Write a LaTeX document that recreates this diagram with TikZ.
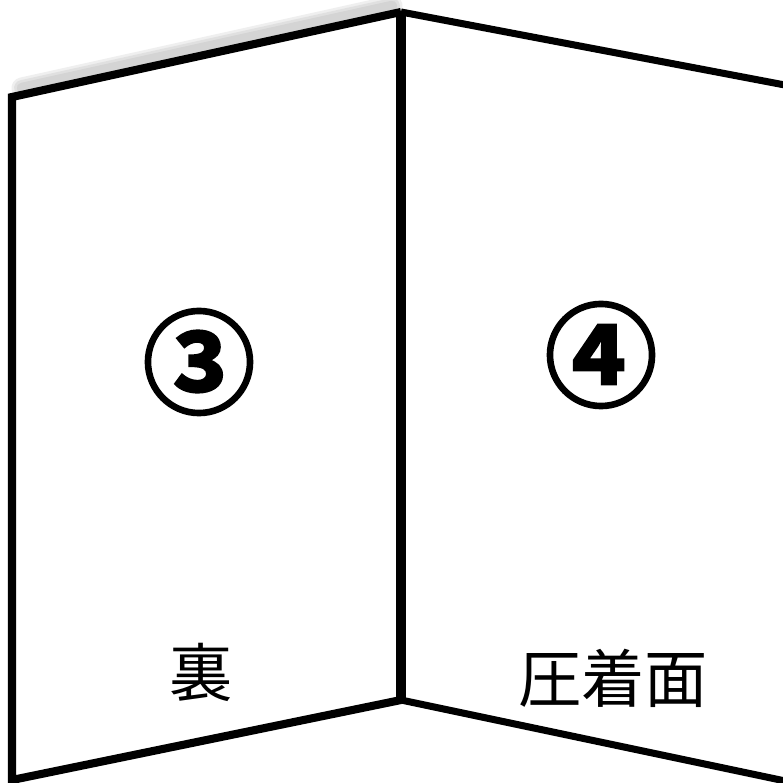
\documentclass[tikz,border=0pt]{standalone}
\usepackage{fontspec}
\newfontfamily\cjk{Noto Sans CJK JP}
\newfontfamily\cjkbold[FakeBold=2.2]{Noto Sans CJK JP Bold}
\tikzset{
  edge/.style={line width=2.3pt, line join=miter, black},
  thinedge/.style={line width=2.0pt, black},
  shade/.style={line width=#1, gray, opacity=0.13, line cap=round},
  num/.style={font=\cjkbold\fontsize{32}{32}\selectfont, inner sep=0pt},
  lab/.style={font=\cjk\fontsize{18}{18}\selectfont, inner sep=0pt}
}
\begin{document}
\begin{tikzpicture}[x=0.01cm, y=-0.01cm]
\useasboundingbox (0,0) rectangle (783,783);
\coordinate (tl) at (12,97);
\coordinate (bl) at (12,780);
\coordinate (tm) at (401,12);
\coordinate (bm) at (401,700);
\coordinate (tr) at (790,86);
\coordinate (br) at (790,782);
\coordinate (stl) at (22,88);
\coordinate (stm) at (392,6);
% soft shadow above the top-left edge
\foreach \w in {6pt,4.5pt,3pt}{
  \draw[shade=\w] (stl) -- (stm);
}
\draw[edge] (tm) -- (tl) -- (bl) -- (bm);
\draw[line width=2.8pt] (tm) -- (bm);
\draw[thinedge] (tm) -- (tr);
\draw[thinedge] (bm) -- (br);
\node[num] (n3) at (199,362) {③};
\node[num] (n4) at (601,355) {④};
\node[lab] (l3) at (201,672) {裏};
\node[lab] (l4) at (613,678) {圧着面};
\end{tikzpicture}
\end{document}
